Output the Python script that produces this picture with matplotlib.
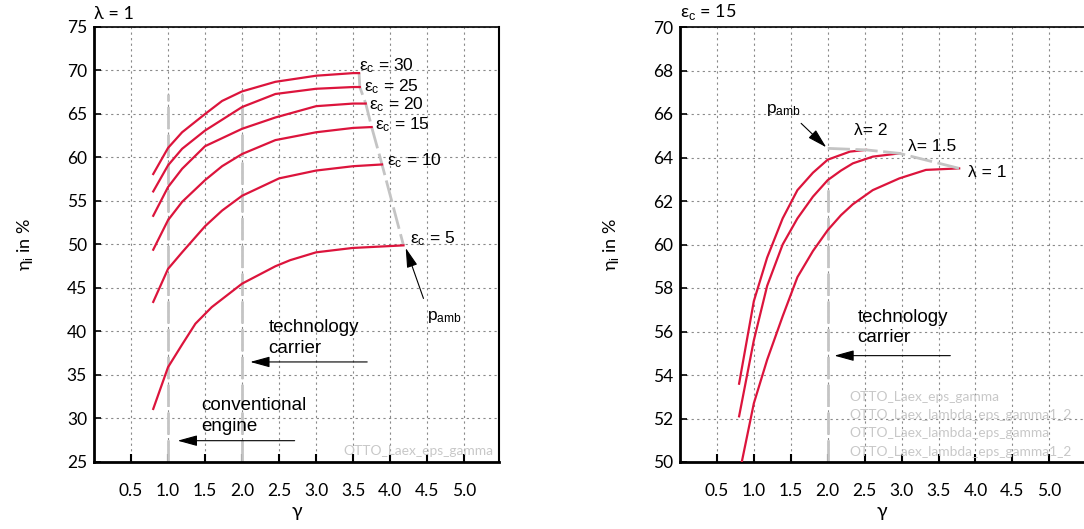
import numpy as np
import matplotlib
matplotlib.use("Agg")
from matplotlib import pyplot as plt

# ---- data ----
# left: lambda = 1, one curve per compression ratio eps_c
eps_c = [30, 25, 20, 15, 10, 5]
gamma_eps = {
    30: [0.80, 1.00, 1.19, 1.50, 1.73, 2.00, 2.45, 3.00, 3.50, 3.58],
    25: [0.80, 1.00, 1.19, 1.50, 2.00, 2.45, 3.00, 3.50, 3.59],
    20: [0.80, 1.00, 1.19, 1.50, 2.00, 2.45, 3.00, 3.50, 3.67],
    15: [0.80, 1.00, 1.19, 1.50, 1.73, 2.00, 2.45, 3.00, 3.50, 3.75],
    10: [0.80, 1.00, 1.19, 1.50, 1.73, 2.00, 2.50, 3.00, 3.50, 3.89],
    5:  [0.80, 1.00, 1.19, 1.37, 1.59, 2.00, 2.45, 2.65, 3.00, 3.49, 4.18],
}
eta_eps = {
    30: [58.1, 61.1, 62.9, 65.0, 66.5, 67.6, 68.7, 69.4, 69.7, 69.7],
    25: [56.1, 59.1, 61.0, 63.1, 65.8, 67.3, 67.9, 68.1, 68.1],
    20: [53.3, 56.6, 58.7, 61.3, 63.3, 64.6, 65.9, 66.2, 66.2],
    15: [49.4, 52.8, 54.9, 57.4, 59.0, 60.4, 62.0, 62.9, 63.4, 63.5],
    10: [43.4, 47.2, 49.1, 52.1, 53.9, 55.6, 57.6, 58.5, 59.0, 59.2],
    5:  [31.1, 35.9, 38.5, 40.9, 42.8, 45.5, 47.5, 48.2, 49.1, 49.6, 49.9],
}
eps_label_pos = {30: (3.58, 70.5), 25: (3.65, 68.2), 20: (3.72, 66.1),
                 15: (3.80, 63.8), 10: (3.96, 59.6), 5: (4.27, 50.7)}

# right: eps_c = 15, one curve per air ratio lambda
lambdas = ["2", "1.5", "1"]
gamma_lam = {
    "2":   [0.80, 1.00, 1.18, 1.39, 1.59, 1.80, 2.00, 2.30, 2.52],
    "1.5": [0.80, 1.00, 1.18, 1.39, 1.59, 1.80, 2.00, 2.18, 2.34, 2.61, 2.97],
    "1":   [0.80, 1.00, 1.18, 1.39, 1.59, 1.80, 2.00, 2.18, 2.34, 2.61, 2.97, 3.33, 3.78],
}
eta_lam = {
    "2":   [53.6, 57.4, 59.4, 61.2, 62.5, 63.3, 63.9, 64.27, 64.35],
    "1.5": [52.1, 55.6, 58.1, 60.0, 61.2, 62.2, 62.96, 63.4, 63.73, 64.04, 64.19],
    "1":   [49.4, 52.7, 54.7, 56.7, 58.5, 59.7, 60.66, 61.35, 61.85, 62.5, 63.04, 63.43, 63.5],
}
lam_labels = {"2": ("λ= 2", 2.36, 65.26), "1.5": ("λ= 1.5", 3.09, 64.5), "1": ("λ = 1", 3.90, 63.3)}
pamb_right_x = [2.0, 2.52, 2.97, 3.78]
pamb_right_y = [64.42, 64.35, 64.19, 63.5]

xticks = [0.5, 1.0, 1.5, 2.0, 2.5, 3.0, 3.5, 4.0, 4.5, 5.0]
watermarks_right = ["OTTO_Laex_eps_gamma", "OTTO_Laex_lambda_eps_gamma1_2",
                    "OTTO_Laex_lambda_eps_gamma", "OTTO_Laex_lambda_eps_gamma1_2"]

RED = "#dc143c"
GREY = "#c4c4c4"
TICKFONT = ["Lato", "DejaVu Sans"]
ARIAL = ["Liberation Sans", "DejaVu Sans"]

plt.rcParams["mathtext.fontset"] = "custom"
plt.rcParams["mathtext.rm"] = "Liberation Sans"
plt.rcParams["mathtext.it"] = "Liberation Sans:italic"

fig = plt.figure(figsize=(10.84, 5.29), dpi=100)
ax1 = fig.add_axes([94/1084, 67/529, 405/1084, 435/529])
ax2 = fig.add_axes([680/1084, 67/529, 404/1084, 435/529])


def style_axes(ax, ylim, ystep):
    ax.set_xlim(0, 5.47)
    ax.set_ylim(*ylim)
    ax.set_xticks(xticks)
    ax.set_xticklabels(["%.1f" % t for t in xticks], family=TICKFONT, fontsize=12.5)
    yt = np.arange(ylim[0], ylim[1] + 0.1, ystep)
    ax.set_yticks(yt)
    ax.set_yticklabels(["%d" % t for t in yt], family=TICKFONT, fontsize=12.5)
    ax.tick_params(axis="x", direction="in", length=6, width=1.5, pad=15)
    ax.tick_params(axis="y", direction="in", length=5, width=1.2, pad=5)
    ax.grid(True, color="#8a8a8a", linestyle=(0, (2, 3)), linewidth=0.8)
    ax.set_axisbelow(True)
    ax.spines["left"].set_linewidth(2)
    ax.spines["bottom"].set_linewidth(2)
    ax.spines["top"].set_linewidth(1.2)
    ax.spines["right"].set_linewidth(1.5)
    ax.set_xlabel("γ", family=TICKFONT, fontsize=14, labelpad=3)
    ax.set_ylabel("η$_\\mathrm{i}$ in %", family=TICKFONT, fontsize=13, labelpad=23)


def arrow(ax, x0, y0, x1, y1):
    ax.annotate("", xy=(x1, y1), xytext=(x0, y0),
                arrowprops=dict(arrowstyle="-|>,head_length=0.8,head_width=0.22",
                                color="k", lw=0.8, mutation_scale=15,
                                shrinkA=0, shrinkB=0))


def two_lines(ax, x, y1, y2, l1, l2):
    ax.text(x, y1, l1, family=ARIAL, fontsize=13.5, va="baseline", ha="left")
    ax.text(x, y2, l2, family=ARIAL, fontsize=13.5, va="baseline", ha="left")


# ---- left chart ----
style_axes(ax1, (25, 75), 5)
ax1.plot([1.0, 1.0], [25, 67.3], color=GREY, lw=2, dashes=(8, 2), zorder=2)
ax1.plot([2.0, 2.0], [25, 67.3], color=GREY, lw=2, dashes=(8, 2), zorder=2)
ends_x = [gamma_eps[e][-1] for e in eps_c]
ends_y = [eta_eps[e][-1] for e in eps_c]
ax1.plot(ends_x, ends_y, color=GREY, lw=2, dashes=(8, 2), zorder=2)
for e in eps_c:
    ax1.plot(gamma_eps[e], eta_eps[e], color=RED, lw=1.6, zorder=3)
    lx, ly = eps_label_pos[e]
    ax1.text(lx, ly, "ε$_\\mathrm{c}$ = %d" % e, family=ARIAL, fontsize=12.5,
             va="center", ha="left", zorder=4)

two_lines(ax1, 2.36, 39.98, 37.57, "technology", "carrier")
arrow(ax1, 3.69, 36.5, 2.11, 36.5)
two_lines(ax1, 1.45, 30.98, 28.56, "conventional", "engine")
arrow(ax1, 2.71, 27.45, 1.13, 27.45)
ax1.text(4.5, 41.3, "p$_\\mathrm{amb}$", family=ARIAL, fontsize=12.5, va="baseline", ha="left")
arrow(ax1, 4.45, 43.8, 4.21, 49.6)
ax1.text(5.40, 25.6, "OTTO_Laex_eps_gamma", family=TICKFONT, fontsize=9.9,
         color="#c8c8c8", ha="right", va="bottom")
ax1.text(0.0, 1.012, "λ = 1", family=TICKFONT, fontsize=13, transform=ax1.transAxes,
         ha="left", va="bottom")

# ---- right chart ----
style_axes(ax2, (50, 70), 2)
ax2.spines["right"].set_visible(False)
ax2.plot([2.0, 2.0], [50, 62.97], color=GREY, lw=2, dashes=(8, 2), zorder=2)
for lam in lambdas:
    ax2.plot(gamma_lam[lam], eta_lam[lam], color=RED, lw=1.6, zorder=3)
    txt, lx, ly = lam_labels[lam]
    ax2.text(lx, ly, txt, family=ARIAL, fontsize=12.5, va="center", ha="left", zorder=4)
ax2.plot(pamb_right_x, pamb_right_y, color=GREY, lw=2, dashes=(8, 2), zorder=3.5)
ax2.text(1.17, 66.03, "p$_\\mathrm{amb}$", family=ARIAL, fontsize=12.5, va="baseline", ha="left")
arrow(ax2, 1.64, 65.57, 1.98, 64.47)
two_lines(ax2, 2.40, 56.45, 55.53, "technology", "carrier")
arrow(ax2, 3.66, 54.89, 2.09, 54.89)
for i, name in enumerate(watermarks_right):
    ax2.text(2.30, 53.0 - i * 0.84, name, family=TICKFONT, fontsize=9.9,
             color="#c8c8c8", ha="left", va="center")
ax2.text(0.0, 1.012, "ε$_\\mathrm{c}$ = 15", family=TICKFONT, fontsize=13,
         transform=ax2.transAxes, ha="left", va="bottom")

fig.savefig("out.png", dpi=100)
